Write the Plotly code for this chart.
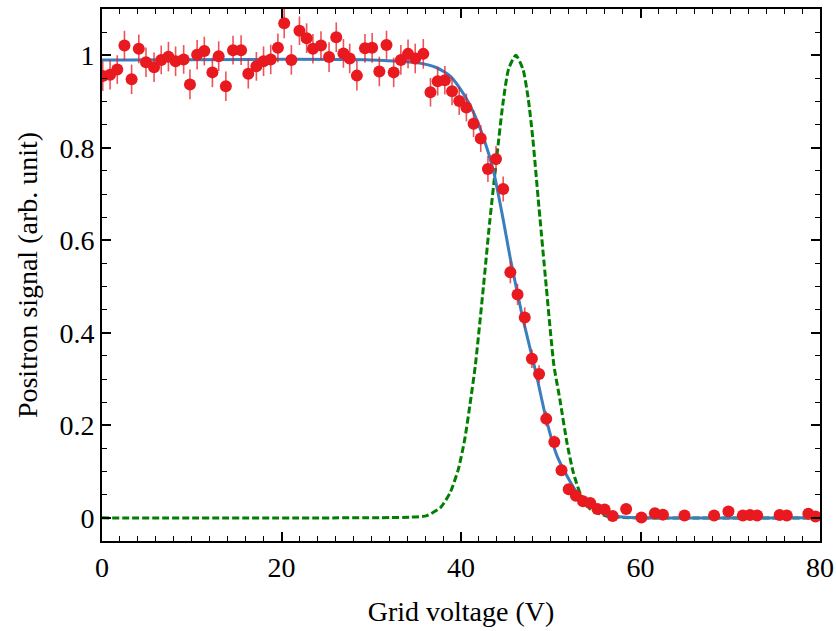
import plotly.graph_objects as go

# measured data points (grid voltage in V, normalised positron signal)
volt = [0.08, 0.9, 1.7, 2.5, 3.3, 4.1, 4.9, 5.8, 6.6, 7.4, 8.2, 9.1, 9.8, 10.6, 11.4, 12.3, 13.0, 13.8, 14.6, 15.5,
        16.3, 17.2, 18.0, 18.8, 19.6,
        20.3, 21.1, 22.0, 22.8, 23.5, 24.4, 25.3, 26.1, 26.9, 27.6, 28.4, 29.3, 30.1, 30.9, 31.7, 32.5, 33.3, 34.1,
        34.9, 35.8, 36.6, 37.4, 38.2,
        39.0, 39.8, 40.6, 41.4, 42.2, 43.0, 43.9, 44.7, 45.5, 46.3,
        47.1, 47.9, 48.7, 49.5, 50.4, 51.2, 52.0, 52.8, 53.6, 54.4, 55.2, 56.0, 56.9, 58.4, 60.1, 61.6, 62.5, 64.9,
        68.2, 69.8, 71.4, 72.2, 73.0, 75.5, 76.3, 78.7, 79.5]
signal = [0.955, 0.958, 0.969, 1.021, 0.948, 1.014, 0.985, 0.974, 0.990, 0.997, 0.987, 0.991, 0.937, 1.001, 1.009,
          0.963, 0.998, 0.933, 1.011, 1.011, 0.960, 0.976, 0.987, 0.991, 1.016,
          1.069, 0.990, 1.053, 1.037, 1.014, 1.021, 0.996, 1.039, 1.004, 0.993, 0.956, 1.015, 1.016, 0.965, 1.022,
          0.963, 0.990, 1.003, 0.993, 1.003, 0.920, 0.944, 0.946,
          0.922, 0.901, 0.887, 0.852, 0.820, 0.754, 0.776, 0.711, 0.531, 0.483,
          0.433, 0.344, 0.311, 0.214, 0.164, 0.103, 0.062, 0.048, 0.036, 0.032, 0.019, 0.018, 0.004, 0.019, 0.001,
          0.010, 0.007, 0.005, 0.005, 0.014, 0.005, 0.006, 0.005, 0.006, 0.005, 0.009, 0.003]
signal_err = [0.032, 0.032, 0.031, 0.032, 0.032, 0.031, 0.032, 0.032, 0.031, 0.032, 0.032, 0.031, 0.032, 0.032,
              0.031, 0.032, 0.032, 0.032, 0.031, 0.032, 0.032, 0.031, 0.032, 0.032, 0.031,
              0.032, 0.032, 0.031, 0.032, 0.032, 0.031, 0.032, 0.032, 0.031, 0.032, 0.032, 0.031, 0.032, 0.032,
              0.031, 0.032, 0.032, 0.031, 0.032, 0.032, 0.031, 0.031, 0.031,
              0.030, 0.030, 0.030, 0.029, 0.029, 0.028, 0.028, 0.027, 0.024, 0.023,
              0.022, 0.020, 0.019, 0.016, 0.014, 0.011, 0.009, 0.008, 0.007, 0.007, 0.006, 0.006, 0.005, 0.006,
              0.005, 0.005, 0.005, 0.005, 0.005, 0.005, 0.005, 0.005, 0.005, 0.005, 0.005, 0.005, 0.005]

# fitted curve (blue)
fit_x = [0, 30, 35.4, 37.3, 38.8, 40.3, 41.4, 42.5, 43.6, 44.7, 45.5, 46.3, 46.9, 48.3, 49.5, 50.7, 51.8, 52.9,
         54.4, 56.2, 58.0, 60.0, 80.0]
fit_y = [0.99, 0.99, 0.983, 0.973, 0.955, 0.916, 0.876, 0.822, 0.751, 0.645, 0.56, 0.485, 0.43, 0.318, 0.213,
         0.134, 0.091, 0.055, 0.026, 0.007, 0.002, 0.0, 0.0]

# energy distribution (green dashed)
dist_x = [0, 34.3, 36.2, 37.7, 38.8, 39.7, 40.4, 41.0, 41.6, 42.5, 43.2, 44.0, 44.7, 45.3, 46.1, 46.9, 47.5, 48.0,
          48.6, 49.5, 50.35, 51.0, 51.8, 52.5, 53.3, 54.4, 56.2, 58.0, 60.0, 80.0]
dist_y = [0.0, 0.0015, 0.005, 0.022, 0.055, 0.105, 0.168, 0.245, 0.33, 0.5, 0.64, 0.783, 0.9, 0.97, 1.0, 0.97,
          0.905, 0.82, 0.69, 0.5, 0.33, 0.258, 0.163, 0.099, 0.052, 0.019, 0.004, 0.001, 0.0, 0.0]

x_ticks = [0, 20, 40, 60, 80]
y_ticks = [0, 0.2, 0.4, 0.6, 0.8, 1]

font = "Liberation Serif, Times New Roman, serif"
fsize = 28

fig = go.Figure()
fig.add_trace(go.Scatter(x=dist_x, y=dist_y, mode="lines",
                         line=dict(color="#008000", width=3, dash="7px,3px", shape="spline", smoothing=0.6),
                         hoverinfo="skip", showlegend=False))
fig.add_trace(go.Scatter(x=fit_x, y=fit_y, mode="lines",
                         line=dict(color="#3a7ebf", width=3, shape="spline", smoothing=0.6),
                         hoverinfo="skip", showlegend=False))
fig.add_trace(go.Scatter(x=volt, y=signal, mode="markers",
                         marker=dict(color="#e8191f", size=12, line=dict(width=0)),
                         error_y=dict(type="data", array=signal_err, visible=True, width=0,
                                      thickness=1.6, color="rgba(232,25,31,0.75)"),
                         showlegend=False))

axis_common = dict(showline=True, linewidth=2, linecolor="black", mirror="allticks",
                   ticks="inside", ticklen=9, tickwidth=1.5, tickcolor="black",
                   showgrid=False, zeroline=False, automargin=False,
                   tickfont=dict(family=font, size=fsize, color="black"))

fig.update_xaxes(range=[0, 80], tickvals=x_ticks, ticktext=[str(v) for v in x_ticks],
                 minor=dict(ticks="inside", dtick=2, ticklen=5, tickwidth=1.2, tickcolor="black", showgrid=False),
                 ticklabeloverflow="allow",
                 title=dict(text="Grid voltage (V)", font=dict(family=font, size=fsize, color="black"), standoff=20),
                 **axis_common)
fig.update_yaxes(range=[-0.05, 1.1], tickvals=y_ticks, ticktext=[("%g" % v) for v in y_ticks],
                 minor=dict(ticks="inside", dtick=0.05, tick0=0, ticklen=5, tickwidth=1.2, tickcolor="black",
                            showgrid=False),
                 title=dict(text="Positron signal (arb. unit)", font=dict(family=font, size=fsize, color="black"),
                            standoff=14),
                 **axis_common)

fig.update_layout(width=836, height=631, margin=dict(l=102, r=16, t=9, b=90),
                  paper_bgcolor="white", plot_bgcolor="white", showlegend=False)

fig.write_html("out.html", config={"displayModeBar": False},
               post_script="document.body.style.margin='0';document.body.style.overflow='hidden';")
